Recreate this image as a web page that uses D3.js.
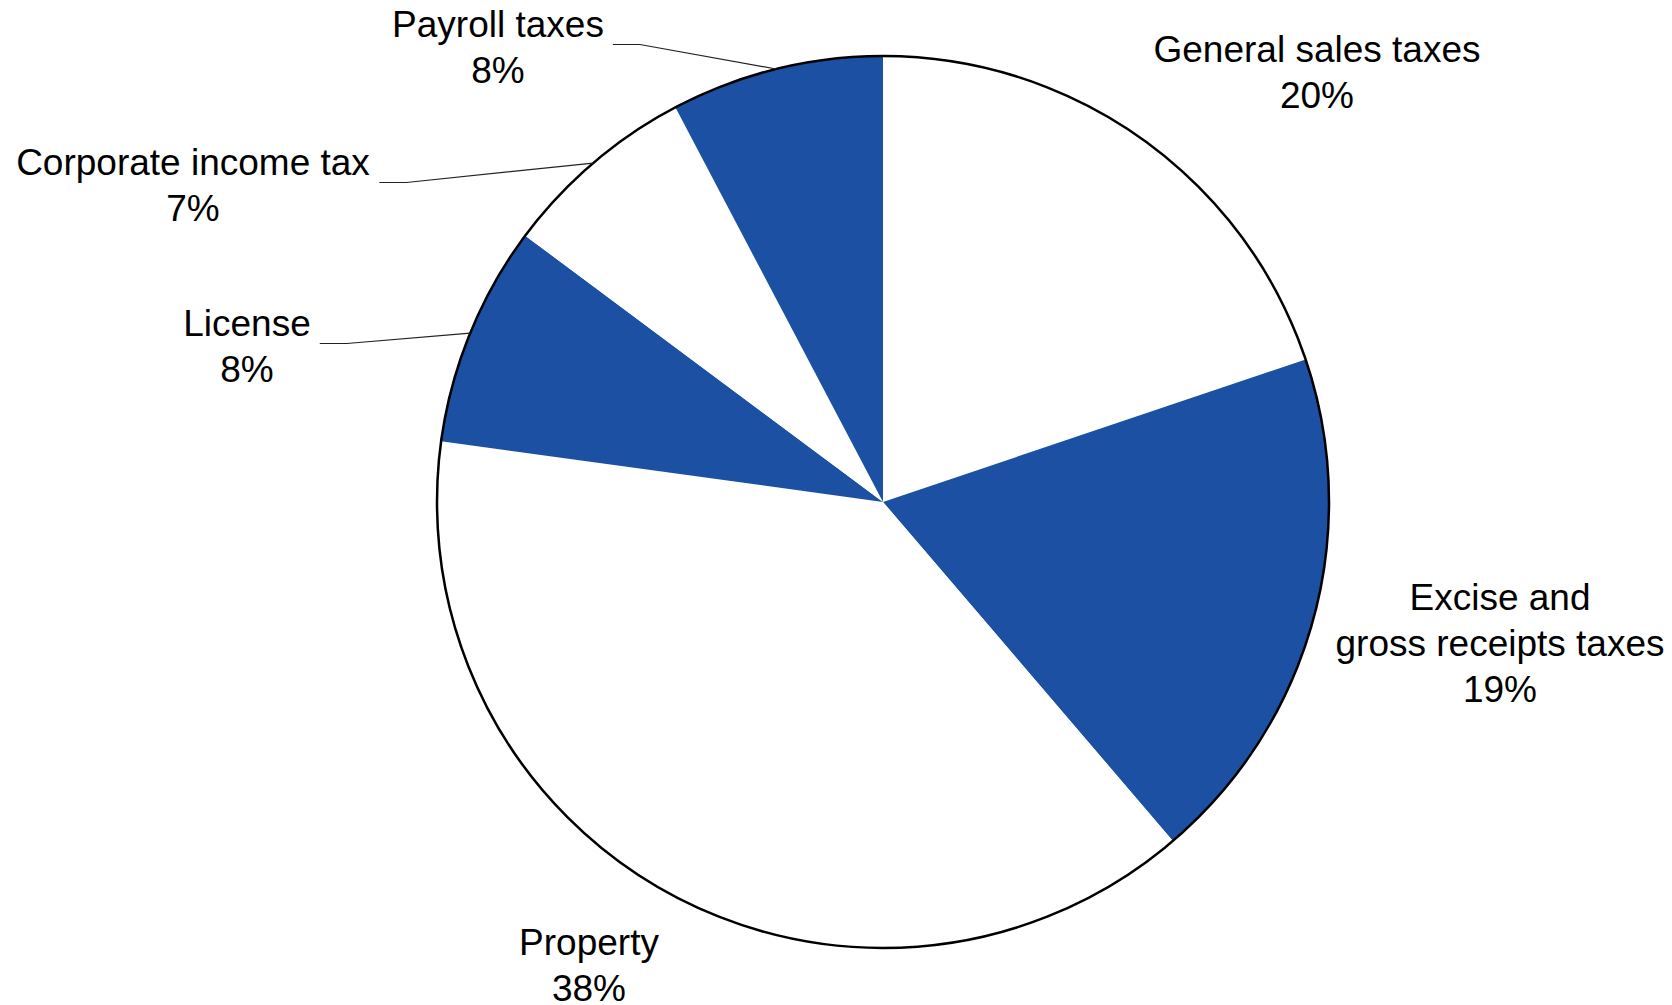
<!DOCTYPE html>
<html>
<head>
<meta charset="utf-8">
<script src="https://cdn.jsdelivr.net/npm/d3@7"></script>
<style>
  html, body { margin: 0; padding: 0; background: #fff; }
  svg text { font-family: "Liberation Sans", Arial, Helvetica, sans-serif; fill: #000; }
</style>
</head>
<body>
<div id="chart"></div>
<script>
// DATA
let categories = ["General sales taxes", "Excise and\ngross receipts taxes", "Property", "License", "Corporate income tax", "Payroll taxes"];
let shares = [19.8, 18.9, 38.4, 8.0, 7.1, 7.7];

// LAYOUT
let width = 1672, height = 1005;
let cx = 883, cy = 502, radius = 446;
let fillColors = ["#ffffff", "#1c50a3", "#ffffff", "#1c50a3", "#ffffff", "#1c50a3"];
// label anchor (centre x, first baseline) relative to pie centre, and whether a leader line is drawn
let labelSpots = [
    {dx: 434, dy: -440, leader: false},
    {dx: 617, dy: 108, leader: false},
    {dx: -294, dy: 453, leader: false},
    {dx: -636, dy: -166, leader: true},
    {dx: -690, dy: -327, leader: true},
    {dx: -385, dy: -465, leader: true}
];
let fontSize = 37, lineHeight = 46;

let svg = d3.select("#chart").append("svg")
    .attr("width", width)
    .attr("height", height);

let g = svg.append("g")
    .attr("transform", "translate(" + cx + "," + cy + ")");

let total = d3.sum(shares);
let rows = categories.map((c, i) => ({name: c, value: shares[i], i: i}));

let pie = d3.pie()
    .sort(null)
    .value(d => d.value)
    .startAngle(0)
    .endAngle(2 * Math.PI);

let arc = d3.arc()
    .innerRadius(0)
    .outerRadius(radius);

let arcs = pie(rows);

// ---- SLICES ----
g.selectAll(".slice")
    .data(arcs)
    .enter()
    .append("path")
    .attr("class", "slice")
    .attr("d", arc)
    .attr("fill", d => fillColors[d.data.i]);

// outline only round the rim
g.append("circle")
    .attr("r", radius)
    .attr("fill", "none")
    .attr("stroke", "#000")
    .attr("stroke-width", 2.5);

// ---- LABELS ----
let labels = g.selectAll(".label")
    .data(arcs)
    .enter()
    .append("text")
    .attr("class", "label")
    .attr("text-anchor", "middle")
    .style("font-size", fontSize + "px")
    .attr("x", d => labelSpots[d.data.i].dx)
    .attr("y", d => labelSpots[d.data.i].dy);

labels.each(function(d) {
    let spot = labelSpots[d.data.i];
    let lines = d.data.name.split("\n");
    lines.push(Math.round(d.data.value / total * 100) + "%");
    d3.select(this).selectAll("tspan")
        .data(lines)
        .enter()
        .append("tspan")
        .attr("x", spot.dx)
        .attr("dy", (l, k) => k == 0 ? 0 : lineHeight)
        .text(l => l);
});

// ---- LEADER LINES ----
labels.filter(d => labelSpots[d.data.i].leader).each(function(d) {
    let box = this.getBBox();
    let mid = (d.startAngle + d.endAngle) / 2;
    let edge = [radius * Math.sin(mid), -radius * Math.cos(mid)];
    let y = box.y + box.height / 2 - 3;
    let x0 = box.x + box.width + 9;
    let x1 = x0 + 27;
    g.append("polyline")
        .attr("class", "leader")
        .attr("points", [[x0, y], [x1, y], edge].map(p => p.join(",")).join(" "))
        .attr("fill", "none")
        .attr("stroke", "#222")
        .attr("stroke-width", 1.2);
});
</script>
</body>
</html>
